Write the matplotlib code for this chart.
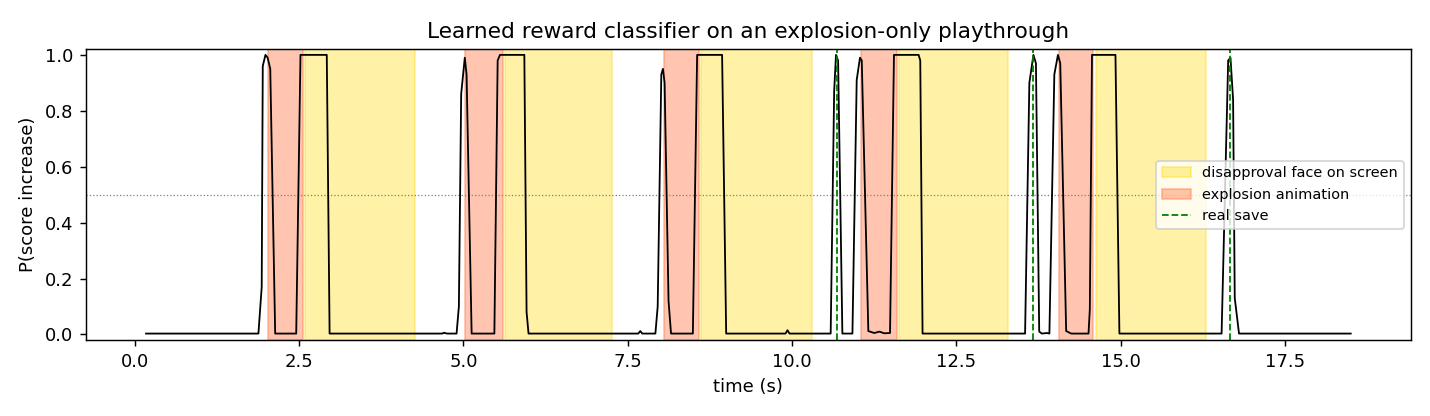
import matplotlib
matplotlib.use("Agg")
import matplotlib.pyplot as plt
from matplotlib.patches import Patch
from matplotlib.lines import Line2D

# classifier output over time (breakpoints)
t_vals = [0.17, 1.88, 1.93, 1.946, 1.987, 2.02, 2.06, 2.135, 2.455, 2.52, 2.92, 2.963,
          4.68, 4.70, 4.75, 4.895, 4.93, 4.965, 5.02, 5.047, 5.124, 5.47, 5.52, 5.555,
          5.926, 5.96, 5.99, 7.66, 7.69, 7.72, 7.92, 7.955, 8.01, 8.035, 8.06, 8.12,
          8.158, 8.49, 8.555, 8.935, 8.997, 9.90, 9.93, 9.96, 10.587, 10.64, 10.668,
          10.70, 10.765, 10.918, 10.983, 11.033, 11.06, 11.16, 11.25, 11.33, 11.40,
          11.49, 11.55, 11.925, 11.95, 11.985, 13.545, 13.61, 13.672, 13.71, 13.76,
          13.80, 13.88, 13.915, 13.99, 14.045, 14.08, 14.17, 14.247, 14.51, 14.53,
          14.563, 14.92, 14.98, 16.535, 16.635, 16.67, 16.71, 16.735, 16.80, 18.5]
p_vals = [0.003, 0.003, 0.17, 0.96, 1.0, 0.99, 0.95, 0.003, 0.003, 1.0, 1.0, 0.003,
          0.003, 0.006, 0.003, 0.003, 0.1, 0.86, 0.99, 0.93, 0.003, 0.003, 0.98, 1.0,
          1.0, 0.08, 0.003, 0.003, 0.012, 0.003, 0.003, 0.1, 0.93, 0.95, 0.9, 0.12,
          0.003, 0.003, 1.0, 1.0, 0.003, 0.003, 0.015, 0.003, 0.003, 0.87, 1.0,
          0.98, 0.003, 0.003, 0.91, 0.99, 0.98, 0.012, 0.005, 0.01, 0.004,
          0.005, 1.0, 1.0, 0.98, 0.003, 0.003, 0.9, 1.0, 0.97, 0.01,
          0.003, 0.005, 0.003, 0.93, 1.0, 0.97, 0.012, 0.003, 0.003, 0.09,
          1.0, 1.0, 0.003, 0.003, 0.98, 0.99, 0.84, 0.13, 0.003, 0.003]

explosion_start = [2.03, 5.02, 8.045, 11.055, 14.06]
explosion_end = [2.556, 5.596, 8.585, 11.594, 14.58]
face_start = [2.592, 5.636, 8.62, 11.62, 14.63]
face_end = [4.26, 7.263, 10.30, 13.29, 16.30]
real_saves = [10.68, 13.67, 16.67]
threshold = 0.5

fig, ax = plt.subplots(figsize=(11, 3.2), dpi=130)

face_color, face_alpha = "gold", 0.35
expl_color, expl_alpha = "coral", 0.45

for s, e in zip(face_start, face_end):
    ax.axvspan(s, e, color=face_color, alpha=face_alpha)
for s, e in zip(explosion_start, explosion_end):
    ax.axvspan(s, e, color=expl_color, alpha=expl_alpha)

ax.axhline(threshold, color="gray", linestyle=":", linewidth=0.7)
ax.plot(t_vals, p_vals, color="black", linewidth=1.0)
for x in real_saves:
    ax.axvline(x, color="green", linestyle="--", linewidth=1.0)

ax.set_ylim(-0.02, 1.02)
ax.set_xlabel("time (s)")
ax.set_ylabel("P(score increase)")
ax.set_title("Learned reward classifier on an explosion-only playthrough")

handles = [
    Patch(facecolor=face_color, edgecolor=face_color, alpha=face_alpha, label="disapproval face on screen"),
    Patch(facecolor=expl_color, edgecolor=expl_color, alpha=expl_alpha, label="explosion animation"),
    Line2D([], [], color="green", linestyle="--", linewidth=1.0, label="real save"),
]
ax.legend(handles=handles, loc="center right", fontsize=8)

fig.subplots_adjust(left=0.060, right=0.9867, top=0.8815, bottom=0.1827)
fig.savefig("out.png", dpi=130)
